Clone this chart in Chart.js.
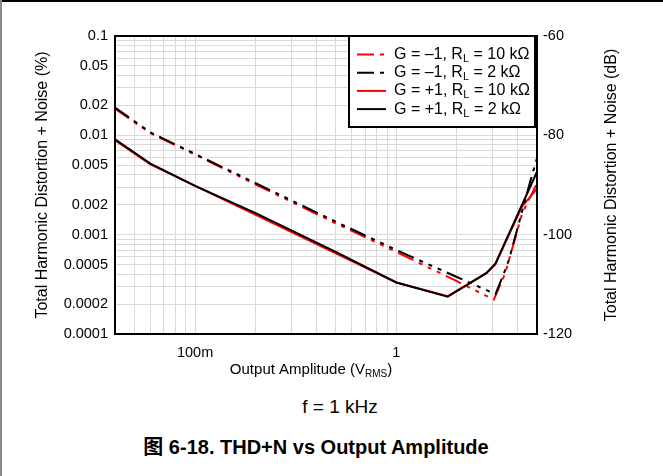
<!DOCTYPE html>
<html>
<head>
<meta charset="utf-8">
<script src="https://cdn.jsdelivr.net/npm/chart.js@4.4.0/dist/chart.umd.min.js"></script>
<style>
  body { margin: 0; background: #fff; }
  #page { position: relative; width: 663px; height: 476px; background: #fff; overflow: hidden;
          font-family: 'Liberation Sans', Arial, 'Noto Sans CJK SC', sans-serif; color: #000; }
  #chartBox { position: absolute; left: 0; top: 0; width: 663px; height: 390px; }
  #topLine { position: absolute; left: 0; top: 0; width: 663px; height: 2px; background: #000; }
  #leftLine { position: absolute; left: 0; top: 0; width: 2px; height: 476px; background: #8a8a8a; }
  #cond { position: absolute; left: 240px; top: 395px; width: 200px; text-align: center;
          font-size: 19px; line-height: 24px; }
  #caption { position: absolute; left: 66px; top: 435px; width: 500px; text-align: center;
             font-size: 20px; line-height: 24px; font-weight: bold; }
</style>
</head>
<body>
<div id="page">
  <div id="chartBox"><canvas id="thdChart"></canvas></div>
  <div id="topLine"></div>
  <div id="leftLine"></div>
  <div id="cond">f = 1 kHz</div>
  <div id="caption">图 6-18. THD+N vs Output Amplitude</div>
</div>
<script>
// Datos (amplitud en Vrms, THD+N en %)
let seriesLabels = ['G = \u20131, R_{L} = 10 k\u03a9', 'G = \u20131, R_{L} = 2 k\u03a9',
                    'G = +1, R_{L} = 10 k\u03a9', 'G = +1, R_{L} = 2 k\u03a9'];

let invRed10kX = [0.04, 0.06, 0.1, 0.2, 0.5, 1, 2, 2.42, 3.05, 3.48, 3.83, 4.22, 5];
let invRed10kY = [0.0185, 0.0105, 0.0064, 0.0032, 0.0013, 0.00067, 0.00034, 0.00028, 0.000222, 0.00041, 0.00082, 0.00163, 0.0033];

let invBlack2kX = [0.04, 0.06, 0.1, 0.2, 0.5, 1, 2, 3.11, 3.36, 3.62, 4.14, 4.64, 5];
let invBlack2kY = [0.019, 0.0107, 0.0065, 0.0033, 0.00135, 0.0007, 0.000375, 0.000252, 0.00037, 0.00055, 0.0015, 0.0035, 0.0059];

let nonRed10kX = [0.04, 0.06, 0.1, 0.2, 0.5, 1, 1.8, 2.8, 3.1, 4.2, 5];
let nonRed10kY = [0.0089, 0.0051, 0.0031, 0.00158, 0.00065, 0.00033, 0.00024, 0.00041, 0.0005, 0.0019, 0.0029];

let nonBlack2kX = [0.04, 0.06, 0.1, 0.2, 0.5, 1, 1.8, 2.8, 3.11, 5];
let nonBlack2kY = [0.0091, 0.0052, 0.0031, 0.00165, 0.00067, 0.00033, 0.000237, 0.00041, 0.000513, 0.0043];

// Etiquetas de los ejes
let xTickLabels = { 0.1: '100m', 1: '1' };
let yTickLabels = ['0.1', '0.05', '0.02', '0.01', '0.005', '0.002', '0.001', '0.0005', '0.0002', '0.0001'];
let dbTicks = [-60, -80, -100, -120];

const FONT = "'Liberation Sans', Arial, sans-serif";
const DASH = [17, 6, 4, 6, 4, 6, 4, 6];

function toPoints(xs, ys) {
    return xs.map((x, i) => ({ x: x, y: ys[i] }));
}

// ticks en 1..9 x 10^n para la rejilla logaritmica
function logTicks(min, max) {
    let list = [];
    for (let e = -5; e <= 1; e++) {
        for (let m = 1; m <= 9; m++) {
            let v = parseFloat((m * Math.pow(10, e)).toPrecision(3));
            if (v >= min * 0.999 && v <= max * 1.001) list.push(v);
        }
    }
    return list;
}

function sameValue(a, b) {
    return Math.abs(Math.log10(a) - Math.log10(b)) < 1e-6;
}

// dibuja texto con subindices marcados como _{...}
function drawSubText(ctx, text, x, y, size) {
    let parts = text.split(/_\{(.*?)\}/);
    ctx.textBaseline = 'middle';
    ctx.textAlign = 'left';
    for (let i = 0; i < parts.length; i++) {
        let isSub = i % 2 === 1;
        ctx.font = (isSub ? Math.round(size * 0.68) : size) + 'px ' + FONT;
        ctx.fillText(parts[i], x, isSub ? y + size * 0.28 : y);
        x += ctx.measureText(parts[i]).width;
    }
}

function subTextWidth(ctx, text, size) {
    let parts = text.split(/_\{(.*?)\}/);
    let w = 0;
    for (let i = 0; i < parts.length; i++) {
        ctx.font = (i % 2 === 1 ? Math.round(size * 0.68) : size) + 'px ' + FONT;
        w += ctx.measureText(parts[i]).width;
    }
    return w;
}

const extrasPlugin = {
    id: 'extras',
    afterDatasetsDraw(chart) {
        let ctx = chart.ctx;
        let a = chart.chartArea;
        ctx.save();

        // marco del area de trazado
        ctx.strokeStyle = '#000';
        ctx.lineWidth = 2;
        ctx.strokeRect(a.left, a.top, a.right - a.left, a.bottom - a.top);

        // leyenda con recuadro
        let boxRight = a.right - 2, boxTop = a.top, boxW = 186, boxH = 91;
        let boxLeft = boxRight - boxW;
        ctx.fillStyle = '#fff';
        ctx.fillRect(boxLeft, boxTop, boxW, boxH);
        ctx.strokeRect(boxLeft, boxTop, boxW, boxH);

        chart.data.datasets.forEach((ds, i) => {
            let y = boxTop + 18.5 + i * 18.2;
            ctx.strokeStyle = ds.borderColor;
            ctx.lineWidth = 2;
            ctx.setLineDash(ds.borderDash || []);
            ctx.beginPath();
            ctx.moveTo(boxLeft + 8, y);
            ctx.lineTo(boxLeft + 37, y);
            ctx.stroke();
            ctx.setLineDash([]);
            ctx.fillStyle = '#000';
            drawSubText(ctx, ds.label, boxLeft + 45, y, 16);
        });
        ctx.restore();
    },
    afterDraw(chart) {
        let ctx = chart.ctx;
        let a = chart.chartArea;
        ctx.save();
        ctx.fillStyle = '#000';

        // titulo del eje derecho (dB), leido de abajo hacia arriba
        ctx.translate(612, (a.top + a.bottom) / 2);
        ctx.rotate(-Math.PI / 2);
        ctx.font = '16px ' + FONT;
        ctx.textAlign = 'center';
        ctx.textBaseline = 'middle';
        ctx.fillText('Total Harmonic Distortion + Noise (dB)', 0, 0);
        ctx.setTransform(1, 0, 0, 1, 0, 0);

        // titulo del eje x con subindice
        let xTitle = 'Output Amplitude (V_{RMS})';
        let w = subTextWidth(ctx, xTitle, 15);
        drawSubText(ctx, xTitle, 311 - w / 2, 370, 15);
        ctx.restore();
    }
};

let datasets = [
    { label: seriesLabels[0], data: toPoints(invRed10kX, invRed10kY), borderColor: '#ff0000', borderDash: DASH, order: 2 },
    { label: seriesLabels[1], data: toPoints(invBlack2kX, invBlack2kY), borderColor: '#000000', borderDash: DASH, order: 1 },
    { label: seriesLabels[2], data: toPoints(nonRed10kX, nonRed10kY), borderColor: '#ff0000', order: 2 },
    { label: seriesLabels[3], data: toPoints(nonBlack2kX, nonBlack2kY), borderColor: '#000000', order: 1 }
];
datasets.forEach(ds => {
    ds.borderWidth = 2;
    ds.pointRadius = 0;
    ds.tension = 0;
    ds.fill = false;
});

let ctx = document.getElementById('thdChart').getContext('2d');
let thdChart = new Chart(ctx, {
    type: 'line',
    data: { datasets: datasets },
    plugins: [extrasPlugin],
    options: {
        responsive: true,
        maintainAspectRatio: false,
        animation: false,
        layout: { padding: { top: 36, left: 0, right: 0, bottom: 0 } },
        plugins: { legend: { display: false }, tooltip: { enabled: false } },
        scales: {
            x: {
                type: 'logarithmic',
                min: 0.04,
                max: 5,
                afterBuildTicks: scale => { scale.ticks = logTicks(0.04, 5).map(v => ({ value: v })); },
                afterFit: scale => { scale.height = 56; },
                ticks: {
                    autoSkip: false,
                    maxRotation: 0,
                    padding: 10,
                    color: '#000',
                    font: { family: FONT, size: 14.5 },
                    callback: value => {
                        for (let k in xTickLabels) {
                            if (sameValue(value, parseFloat(k))) return xTickLabels[k];
                        }
                        return '';
                    }
                },
                grid: { color: '#d9d9d9', lineWidth: 1, drawTicks: false },
                border: { display: true, color: '#000', width: 2 }
            },
            y: {
                type: 'logarithmic',
                position: 'left',
                min: 0.0001,
                max: 0.1,
                afterBuildTicks: scale => { scale.ticks = logTicks(0.0001, 0.1).map(v => ({ value: v })); },
                afterFit: scale => { scale.width = 115; },
                ticks: {
                    autoSkip: false,
                    padding: 7,
                    color: '#000',
                    font: { family: FONT, size: 14.5 },
                    callback: value => {
                        let hit = yTickLabels.find(t => sameValue(value, parseFloat(t)));
                        return hit || '';
                    }
                },
                title: {
                    display: true,
                    text: 'Total Harmonic Distortion + Noise (%)',
                    color: '#000',
                    font: { family: FONT, size: 16 },
                    padding: { top: 33, bottom: 0 }
                },
                grid: { color: '#d9d9d9', lineWidth: 1, drawTicks: false },
                border: { display: true, color: '#000', width: 2 }
            },
            y2: {
                type: 'linear',
                position: 'right',
                min: -120,
                max: -60,
                afterBuildTicks: scale => { scale.ticks = dbTicks.map(v => ({ value: v })); },
                afterFit: scale => { scale.width = 126; },
                ticks: {
                    padding: 6,
                    color: '#000',
                    font: { family: FONT, size: 14.5 },
                    callback: value => String(value)
                },
                grid: { drawOnChartArea: false, drawTicks: false },
                border: { display: true, color: '#000', width: 2 }
            }
        }
    }
});
</script>
</body>
</html>
